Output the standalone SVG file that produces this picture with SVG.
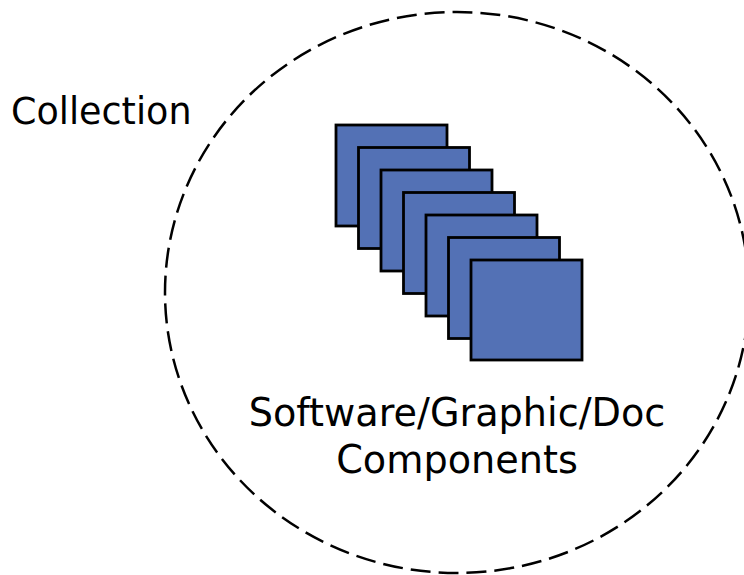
<svg xmlns="http://www.w3.org/2000/svg" width="744" height="575" viewBox="0 0 744 575">
<style>
  .lbl { font-family: "DejaVu Sans", Verdana, sans-serif; fill: #000; }
  .card { fill: #5371B5; stroke: #000; stroke-width: 2.8; }
  .coll { fill: none; stroke: #000; stroke-width: 2.5; stroke-dasharray: 20 8; }
</style>
<rect width="744" height="575" fill="#fff"/>
<g id="collection">
  <ellipse class="coll" cx="457" cy="292.5" rx="292" ry="280.5"/>
  <text class="lbl" x="11" y="124" font-size="36.5">Collection</text>
</g>
<g id="components">
  <rect class="card" x="336" y="125" width="111" height="101"/>
  <rect class="card" x="358.5" y="147.5" width="111" height="101"/>
  <rect class="card" x="381" y="170" width="111" height="101"/>
  <rect class="card" x="403.5" y="192.5" width="111" height="101"/>
  <rect class="card" x="426" y="215" width="111" height="101"/>
  <rect class="card" x="448.5" y="237.5" width="111" height="101"/>
  <rect class="card" x="471" y="260" width="111" height="100"/>
  <text class="lbl" x="457" y="426" font-size="38.2" text-anchor="middle">Software/Graphic/Doc</text>
  <text class="lbl" x="457" y="473" font-size="38.2" text-anchor="middle">Components</text>
</g>
<g id="connectors"></g>
</svg>
